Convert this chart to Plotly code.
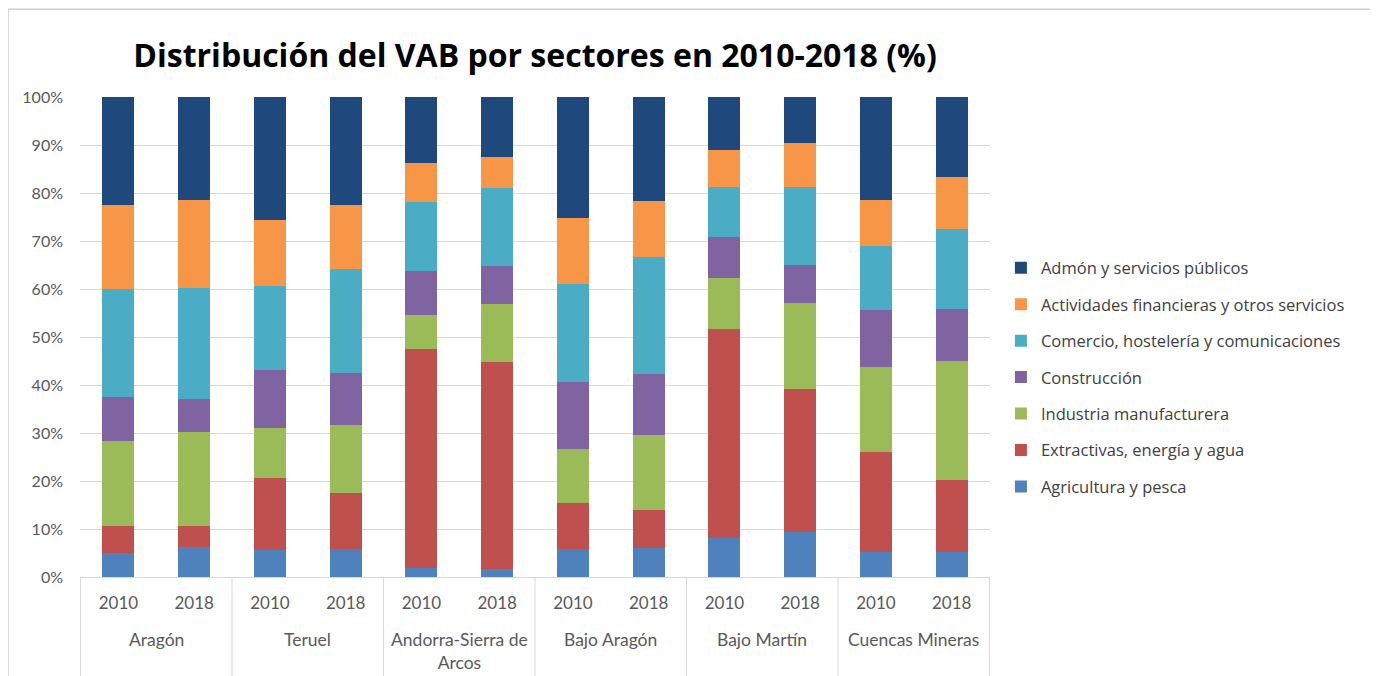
import plotly.graph_objects as go

# comarcas y años
zonas = ["Aragón", "Teruel", "Andorra-Sierra de<br>Arcos", "Bajo Aragón", "Bajo Martín", "Cuencas Mineras"]
anios = ["2010", "2018"]

# % del VAB por sector, orden: Aragón 2010, Aragón 2018, Teruel 2010, ...
agricultura = [5.0, 6.2, 5.7, 5.9, 1.9, 1.7, 5.9, 6.0, 8.1, 9.4, 5.3, 5.2]
extractivas = [5.7, 4.5, 14.9, 11.6, 45.7, 43.0, 9.6, 7.9, 43.6, 29.8, 20.8, 15.1]
industria = [17.7, 19.5, 10.4, 14.2, 7.0, 12.2, 11.1, 15.7, 10.5, 17.8, 17.6, 24.8]
construccion = [9.2, 6.9, 12.1, 10.7, 9.2, 7.8, 14.0, 12.7, 8.7, 8.0, 11.9, 10.7]
comercio = [22.4, 23.1, 17.6, 21.7, 14.4, 16.3, 20.4, 24.3, 10.4, 16.3, 13.3, 16.7]
financieras = [17.5, 18.3, 13.6, 13.4, 8.0, 6.5, 13.8, 11.8, 7.7, 9.1, 9.6, 10.9]
admon = [22.5, 21.5, 25.7, 22.5, 13.8, 12.5, 25.2, 21.6, 11.0, 9.6, 21.5, 16.6]

sectores = [
    ("Agricultura y pesca", agricultura, "#4F81BD"),
    ("Extractivas, energía y agua", extractivas, "#C0504D"),
    ("Industria manufacturera", industria, "#9BBB59"),
    ("Construcción", construccion, "#8064A2"),
    ("Comercio, hostelería y comunicaciones", comercio, "#4BACC6"),
    ("Actividades financieras y otros servicios", financieras, "#F79646"),
    ("Admón y servicios públicos", admon, "#1F497D"),
]

# una categoría por barra, la etiqueta visible es sólo el año
claves = [f"{z}|{a}" for z in zonas for a in anios]
etiquetas = [a for _ in zonas for a in anios]

GRIS = "#595959"
LINEA = "#D9D9D9"

fig = go.Figure()
for i, (nombre, valores, color) in enumerate(sectores):
    # legendrank decreciente: la última serie (arriba de la pila) sale primero en la leyenda
    fig.add_trace(go.Bar(x=claves, y=valores, name=nombre, legendgroup=nombre,
                         legendrank=1000 - i, marker_color=color, marker_line_width=0))

# la página tiene 8px de margen en el body
fig.update_layout(
    barmode="stack",
    bargap=0.58,
    width=1370, height=668,
    plot_bgcolor="white", paper_bgcolor="white",
    font=dict(family="Lato, sans-serif", color=GRIS, size=15),
    margin=dict(l=72, r=388, t=89, b=99),
    title=dict(text="<b>Distribución del VAB por sectores en 2010-2018 (%)</b>",
               x=0.3847, xanchor="center", y=0.928, yanchor="middle",
               font=dict(family="Open Sans, sans-serif", size=32, color="black")),
    legend=dict(traceorder="grouped", x=1.012, y=0.4156, yanchor="middle", xanchor="left",
                font=dict(family="Open Sans, sans-serif", size=16.5, color="#404040"),
                itemwidth=30, tracegroupgap=12),
)
fig.update_yaxes(range=[0, 100], dtick=10, ticksuffix="%", showgrid=True, gridcolor=LINEA,
                 zeroline=False, showline=False, ticklabelstandoff=16,
                 tickfont=dict(size=16, color=GRIS))
fig.update_xaxes(type="category", tickvals=claves, ticktext=etiquetas, showline=True, linecolor=LINEA,
                 ticklabelstandoff=11, tickfont=dict(size=17, color=GRIS))

# nombres de las comarcas y separadores del eje
for i, z in enumerate(zonas):
    fig.add_annotation(x=i * len(anios) + (len(anios) - 1) / 2, y=-0.105, xref="x", yref="paper",
                       text=z, showarrow=False, yanchor="top", font=dict(size=17.5, color=GRIS))
for i in range(len(zonas) + 1):
    xd = i * len(anios) - 0.5
    fig.add_shape(type="line", xref="x", yref="paper", x0=xd, x1=xd, y0=0, y1=-0.23,
                  line=dict(color=LINEA, width=1))

# marco exterior del gráfico
fig.add_shape(type="rect", xref="paper", yref="paper", x0=-0.0791, x1=1.4198, y0=-0.23, y1=1.183,
              line=dict(color="#D0D0D0", width=1.5), layer="below")
fig.write_html("out.html")
